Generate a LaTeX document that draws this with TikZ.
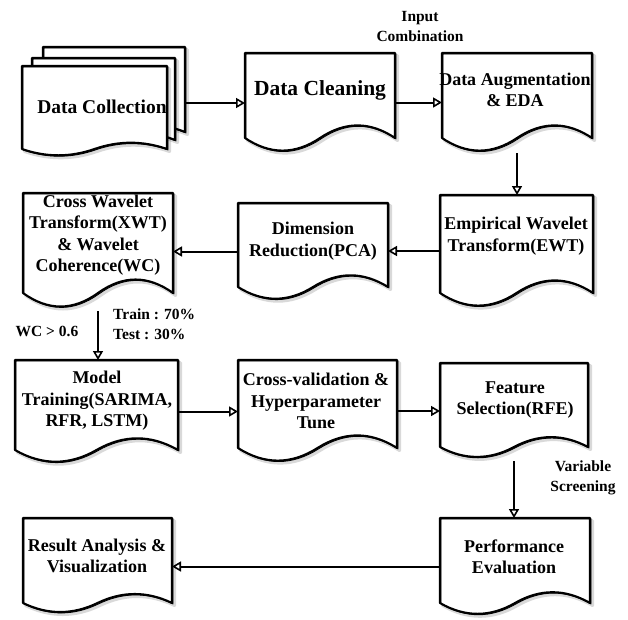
\documentclass[tikz,border=0pt]{standalone}
\usepackage{fontspec}
\setmainfont{Liberation Serif}
\usetikzlibrary{arrows.meta}
\tikzset{
  docline/.style={line width=2.1pt, draw=black, fill=white, line join=round},
  docline2/.style={line width=0.9pt, draw=black, line join=round},
  shadowline/.style={line width=3pt, draw=black, opacity=0.15, line join=round},
  area/.style={inner sep=0pt, outer sep=0pt, draw=none, rectangle},
  txt/.style={align=center, inner sep=0pt, font=\bfseries\fontsize{18}{21.5}\selectfont},
  lbl/.style={align=center, inner sep=0pt, font=\bfseries\fontsize{15.5}{20}\selectfont},
  arr/.style={line width=2pt, -{Triangle[open, length=9pt, width=10pt, line width=1.6pt]}},
}
% #1 L, #2 T, #3 R, #4 H (bottom of wave), #5 dy
\newcommand{\mydocpath}[5]{(#1,#2) -- (#3,#2) -- (#3,{#4-0.5*#5})
  .. controls ({#3-(#3-#1)/6},{#4-1.1*#5}) and ({#1+2*(#3-#1)/3},{#4-1.1*#5}) .. ({(#1+#3)/2},{#4-0.5*#5})
  .. controls ({#1+(#3-#1)/3},{#4+0.1*#5}) and ({#1+(#3-#1)/6},{#4+0.1*#5}) .. (#1,{#4-0.5*#5}) -- cycle}
\newcommand{\mydocpage}[5]{%
  \draw[shadowline, shift={(2.5,2.5)}] \mydocpath{#1}{#2}{#3}{#4}{#5};
  \filldraw[docline] \mydocpath{#1}{#2}{#3}{#4}{#5};
  \draw[docline2, shift={(1,0.9)}] \mydocpath{#1}{#2}{#3}{#4}{#5};
}
% #1 name, #2 L, #3 T, #4 R, #5 H, #6 dy
\newcommand{\mydocbox}[6]{%
  \mydocpage{#2}{#3}{#4}{#5}{#6}
  \pgfmathsetmacro{\bw}{#4-#2}\pgfmathsetmacro{\bh}{#5-#3}%
  \node[area, minimum width=\bw pt, minimum height=\bh pt] (#1) at ({(#2+#4)/2},{(#3+#5)/2}) {};
}
\begin{document}
\begin{tikzpicture}[x=1pt,y=-1pt]
\useasboundingbox (0,0) rectangle (628,619);
% Data collection (multiple documents)
\mydocpage{43}{47}{185}{140}{16}
\mydocpage{32}{58}{175}{148}{16}
\mydocpage{22}{66}{167}{156}{14}
\node[area, minimum width=163pt, minimum height=104pt] (dc) at (103.5,103) {};
% other boxes
\mydocbox{clean}{245}{53}{395}{152}{28}
\mydocbox{aug}{442}{53}{592}{152}{28}
\mydocbox{ewt}{440}{195}{593}{307}{28}
\mydocbox{dim}{238}{203}{388}{300}{26}
\mydocbox{xwt}{23}{193}{173}{308}{30}
\mydocbox{model}{15}{360}{178}{463}{26}
\mydocbox{cv}{238}{360}{397}{462}{28}
\mydocbox{feat}{440}{363}{588}{458}{22}
\mydocbox{perf}{440}{518}{590}{615}{24}
\mydocbox{res}{23}{518}{172}{613}{20}
% texts
\node[txt, font=\bfseries\fontsize{19.5}{23}\selectfont] (dc-t) at (102,107) {Data Collection};
\node[txt, font=\bfseries\fontsize{21.5}{25}\selectfont] (clean-t) at (320,90) {Data Cleaning};
\node[txt] (aug-t) at (515,90) {Data Augmentation\\\& EDA};
\node[txt] (ewt-t) at (516,236) {Empirical Wavelet\\Transform(EWT)};
\node[txt] (dim-t) at (313,241) {Dimension\\Reduction(PCA)};
\node[txt] (xwt-t) at (98,235) {Cross Wavelet\\Transform(XWT)\\\& Wavelet\\Coherence(WC)};
\node[txt] (model-t) at (97,401) {Model\\Training(SARIMA,\\RFR, LSTM)};
\node[txt] (cv-t) at (316,401) {Cross-validation \&\\Hyperparameter\\Tune};
\node[txt] (feat-t) at (515,400) {Feature\\Selection(RFE)};
\node[txt] (perf-t) at (514,557) {Performance\\Evaluation};
\node[txt] (res-t) at (97,556) {Result Analysis \&\\Visualization};
% labels
\node[lbl] (inp) at (420,26) {Input\\Combination};
\node[lbl] (wc) at (47,331) {WC > 0.6};
\node[lbl, align=left, anchor=west] (split) at (113,324) {Train : 70\%\\Test : 30\%};
\node[lbl] (vs) at (583,478) {Variable\\Screening};
% connectors
\draw[arr] (dc.east) -- (dc.east -| clean.west);
\draw[arr] (clean.east) -- (clean.east -| aug.west);
\draw[arr, shorten <=1pt] (aug.south) -- (aug.south |- ewt.north);
\draw[arr] (ewt.west) -- (ewt.west -| dim.east);
\draw[arr] (dim.west) -- (dim.west -| xwt.east);
\draw[arr, shorten <=3pt] (xwt.south) -- (xwt.south |- model.north);
\draw[arr] (model.east) -- (model.east -| cv.west);
\draw[arr] (cv.east) -- (cv.east -| feat.west);
\draw[arr, shorten <=3pt] (feat.south) -- (feat.south |- perf.north);
\draw[arr] (perf.west) -- (perf.west -| res.east);
\end{tikzpicture}
\end{document}
